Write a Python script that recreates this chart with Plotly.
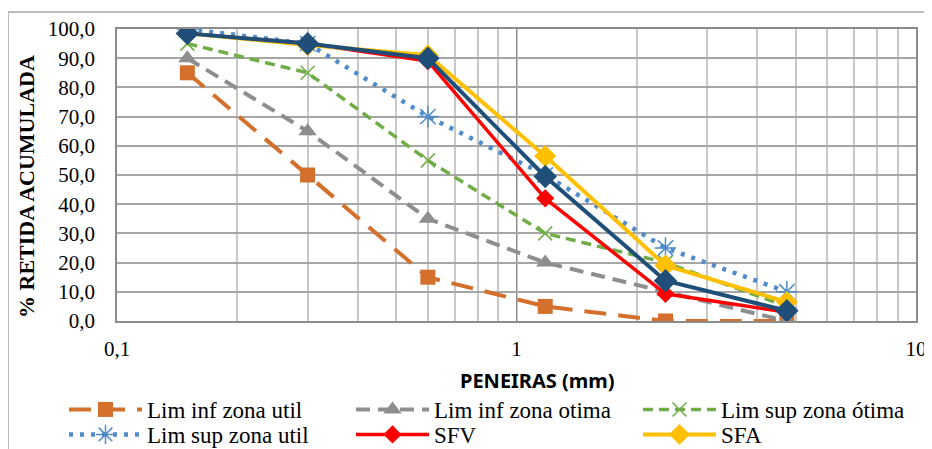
import plotly.graph_objects as go

sieves = [0.15, 0.3, 0.6, 1.18, 2.36, 4.75]
lim_inf_util = [85, 50, 15, 5, 0, 0]
lim_inf_otima = [90, 65, 35, 20, 10, 0]
lim_sup_otima = [95, 85, 55, 30, 20, 5]
lim_sup_util = [100, 95, 70, 50, 25, 10]
sfv = [98.5, 95, 89, 42, 9.3, 3]
sfa = [98.5, 94.5, 91, 56.5, 19, 6.5]
media = [98.5, 95, 90, 49.5, 13.8, 3.5]

xtick_vals = [0.1, 1, 10]
xtick_text = ["0,1", "1", "10"]

FONT = "Liberation Serif, Times New Roman, serif"

# image pixel -> paper coordinates (plot area spans x 117..916, y 29..321 in the picture)
def px(X):
    return (X - 117) / 799

def py(Y):
    return (321 - Y) / 292

fig = go.Figure()

def add(name, y, color, dash, width, symbol, msize, legend="legend", show=True, mline=None):
    marker = dict(symbol=symbol, size=msize, color=color)
    if mline:
        marker["line"] = dict(color=color, width=mline)
    fig.add_trace(go.Scatter(x=sieves, y=y, name=name, mode="lines+markers",
                             line=dict(color=color, dash=dash, width=width),
                             marker=marker, showlegend=show, legend=legend))

add("Lim inf zona util", lim_inf_util, "#D4702C", "22px,12px", 4, "square", 15)
add("Lim inf zona otima", lim_inf_otima, "#8E8E8E", "14px,8px", 4, "triangle-up", 16)
add("Lim sup zona ótima", lim_sup_otima, "#70AD47", "10px,6px", 3.5, "x-thin-open", 14, mline=1.5)
add("Lim sup zona util", lim_sup_util, "#4F8CC9", "4px,7px", 4.5, "asterisk-open", 18,
    legend="legend2", mline=1.5)
add("SFV", sfv, "#FF0000", "solid", 3.5, "diamond", 14, legend="legend2")
add("SFA", sfa, "#FFC000", "solid", 4, "diamond", 17, legend="legend2")
add("Média", media, "#1F4E79", "solid", 4, "diamond", 18, show=False)

leg_common = dict(orientation="h", xanchor="left", yanchor="top",
                  entrywidth=199, itemwidth=73, font=dict(family=FONT, size=23),
                  tracegroupgap=0, bgcolor="rgba(0,0,0,0)")

fig.update_layout(
    width=932, height=449,
    # the page adds an 8px body margin, so figure coords = picture coords - 8
    margin=dict(l=109, r=24, t=21, b=136, autoexpand=False),
    paper_bgcolor="white", plot_bgcolor="white",
    separators=",.",
    font=dict(family=FONT, size=20, color="black"),
    legend=dict(x=px(64), y=py(388), **leg_common),
    legend2=dict(x=px(64), y=py(413), **leg_common),
    showlegend=True,
)

fig.update_xaxes(type="log", range=[-1, 1], tickvals=xtick_vals, ticktext=xtick_text,
                 showgrid=True, gridcolor="#8C8C8C", gridwidth=1.2,
                 minor=dict(dtick="D1", showgrid=True, gridcolor="#C8C8C8", gridwidth=1.5),
                 showline=True, linecolor="#8C8C8C", linewidth=1.5, mirror=True,
                 ticks="", ticklabelstandoff=8, ticklabeloverflow="allow",
                 tickfont=dict(family=FONT, size=21), zeroline=False)
fig.update_yaxes(range=[0, 100], dtick=10, tickformat=".1f",
                 showgrid=True, gridcolor="#A6A6A6", gridwidth=1.5,
                 showline=True, linecolor="#8C8C8C", linewidth=1.5, mirror=True,
                 ticks="", ticklabelstandoff=16,
                 tickfont=dict(family=FONT, size=21), zeroline=False)

fig.add_annotation(text="<b>% RETIDA ACUMULADA</b>", textangle=-90,
                   xref="paper", yref="paper", x=px(27), y=py(187),
                   xanchor="center", yanchor="middle",
                   showarrow=False, font=dict(family=FONT, size=22))
fig.add_annotation(text="<b>PENEIRAS (mm)</b>", xref="paper", yref="paper",
                   x=px(537), y=py(380), yanchor="middle", xanchor="center",
                   showarrow=False, font=dict(family="Noto Sans", size=20))

# outer chart border (top and left visible)
fig.add_shape(type="line", xref="paper", yref="paper",
              x0=px(8), x1=px(960), y0=py(12), y1=py(12),
              line=dict(color="#A6A6A6", width=1.5))
fig.add_shape(type="line", xref="paper", yref="paper",
              x0=px(8), x1=px(8), y0=py(12), y1=py(470),
              line=dict(color="#A6A6A6", width=1.5))

fig.write_html("out.html")
